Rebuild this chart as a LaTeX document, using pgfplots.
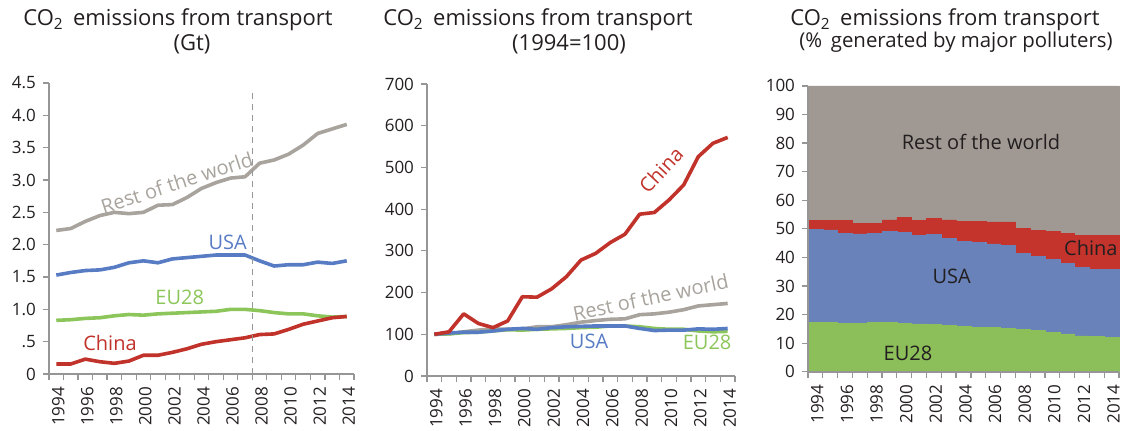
\documentclass[border=0pt]{standalone}
\usepackage{pgfplots}
\usepackage{pgfplotstable}
\pgfplotsset{compat=1.18}
\usepackage{fontspec}
\setmainfont{Open Sans}
\definecolor{rowline}{RGB}{168,163,157}
\definecolor{usaline}{RGB}{88,124,196}
\definecolor{euline}{RGB}{140,198,90}
\definecolor{chline}{RGB}{192,50,42}
\definecolor{rowfill}{RGB}{160,153,147}
\definecolor{usafill}{RGB}{105,130,185}
\definecolor{eufill}{RGB}{140,190,90}
\definecolor{chfill}{RGB}{196,52,44}
\definecolor{axgray}{RGB}{150,150,150}
\definecolor{txt}{RGB}{35,31,32}

\pgfplotstableread{
year row usa eu ch
1994 2.22 1.53 0.83 0.155
1995 2.25 1.57 0.84 0.155
1996 2.36 1.60 0.86 0.23
1997 2.45 1.61 0.87 0.19
1998 2.50 1.65 0.90 0.165
1999 2.48 1.72 0.92 0.20
2000 2.50 1.75 0.91 0.29
2001 2.61 1.72 0.93 0.29
2002 2.62 1.78 0.94 0.335
2003 2.73 1.80 0.95 0.39
2004 2.87 1.82 0.96 0.46
2005 2.96 1.84 0.97 0.50
2006 3.03 1.84 1.00 0.53
2007 3.05 1.84 1.00 0.56
2008 3.26 1.75 0.98 0.61
2009 3.31 1.67 0.95 0.62
2010 3.40 1.69 0.93 0.69
2011 3.54 1.69 0.93 0.77
2012 3.72 1.73 0.90 0.82
2013 3.79 1.71 0.88 0.87
2014 3.86 1.75 0.89 0.89
}\gt

\pgfplotstableread{
year row usa eu ch
1994 100 100 100 100
1995 101 103 101 106
1996 106 105 104 149
1997 110 105 105 126
1998 113 108 108 116
1999 112 112 111 132
2000 113 114 110 190
2001 118 112 112 189
2002 118 116 113 209
2003 123 118 114 238
2004 129 119 116 278
2005 133 120 117 294
2006 136 120 120 320
2007 137 120 120 340
2008 147 114 118 388
2009 149 109 114 392
2010 153 110 112 422
2011 159 110 112 458
2012 168 113 108 526
2013 171 112 106 558
2014 174 114 107 572
}\idx

\pgfplotstableread{
year eu usa ch row
1994 17.3 32.5 3.1 47.1
1995 17.2 32.4 3.3 47.1
1996 16.9 31.5 4.5 47.1
1997 16.9 31.3 3.7 48.1
1998 17.2 31.2 3.5 48.1
1999 17.3 31.9 3.9 46.9
2000 16.9 31.8 5.3 46.0
2001 16.7 31.1 5.1 47.1
2002 16.6 31.5 5.6 46.3
2003 16.1 30.6 6.4 46.9
2004 15.8 29.9 6.9 47.4
2005 15.5 29.8 7.2 47.5
2006 15.5 29.2 7.7 47.6
2007 15.2 29.1 8.1 47.6
2008 14.8 26.6 8.8 49.8
2009 14.4 25.9 9.1 50.6
2010 13.8 25.5 9.7 51.0
2011 13.2 24.7 10.5 51.6
2012 12.5 24.0 11.3 52.2
2013 12.3 23.5 11.8 52.4
2014 12.0 23.8 12.0 52.2
}\share

\pgfplotsset{
  myax/.style={
    scale only axis, anchor=south west,
    axis lines*=left,
    axis line style={draw=axgray, line width=0.9pt},
    tick style={draw=axgray, line width=0.6pt},
    tick align=outside,
    major tick length=3pt, minor tick length=3pt,
    xmin=1993.5, xmax=2014.5,
    xtick={1994,1996,...,2014},
    every major x tick/.append style={draw=none},
    minor xtick={1993.5,1994.5,...,2014.5},
    /pgf/number format/assume math mode=true,
    /pgf/number format/1000 sep={},
    x tick label style={rotate=90, anchor=east, font=\fontsize{8.5}{8.5}\selectfont, text=txt},
    y tick label style={font=\fontsize{8.5}{8.5}\selectfont, text=txt},
    xticklabel style={yshift=-1pt},
    clip=false,
  },
  ln/.style={line width=1.8pt, line join=round},
}
\newcommand\lab{\fontsize{10}{10}\selectfont}
\newcommand\ttl{\fontsize{11}{11}\selectfont}

\begin{document}
\begin{tikzpicture}
\path[use as bounding box] (0,0) rectangle (561pt,215pt);

% titles
\node[text=txt, font=\ttl] at (89pt,205pt) {CO\textsubscript{2}\, emissions from transport};
\node[text=txt, font=\ttl] at (96pt,193pt) {(Gt)};
\node[text=txt, font=\ttl] at (269pt,205pt) {CO\textsubscript{2}\, emissions from transport};
\node[text=txt, font=\ttl] at (284.5pt,193pt) {(1994=100)};
\node[text=txt, font=\ttl] at (472.5pt,205pt) {CO\textsubscript{2}\, emissions from transport};
\node[text=txt, font=\fontsize{10.2}{10.2}\selectfont] at (478pt,194pt) {(\%\,\ generated by major polluters)};

% chart 1
\begin{axis}[myax, at={(24.5pt,28pt)}, width=152.5pt, height=145.5pt,
  ymin=0, ymax=4.5, ytick={0,0.5,...,4.5},
  yticklabels={0,.5,1.0,1.5,2.0,2.5,3.0,3.5,4.0,4.5}]
\addplot[ln, color=rowline] table[x=year,y=row]{\gt};
\addplot[ln, color=usaline] table[x=year,y=usa]{\gt};
\addplot[ln, color=euline] table[x=year,y=eu]{\gt};
\addplot[ln, color=chline] table[x=year,y=ch]{\gt};
\draw[axgray, line width=0.7pt, dash pattern=on 3pt off 2.5pt] (axis cs:2007.5,0) -- (axis cs:2007.5,4.35);
\node[rowline, rotate=18, font=\lab] at (axis cs:2002.3,2.96) {Rest of the world};
\node[usaline, font=\lab] at (axis cs:2005.8,2.03) {USA};
\node[euline, font=\lab] at (axis cs:2002.5,1.19) {EU28};
\node[chline, font=\lab] at (axis cs:1997.7,0.48) {China};
\end{axis}

% chart 2
\begin{axis}[myax, at={(213.5pt,27pt)}, width=154pt, height=146pt,
  ymin=0, ymax=700, ytick={0,100,...,700}]
\addplot[ln, color=rowline] table[x=year,y=row]{\idx};
\addplot[ln, color=euline] table[x=year,y=eu]{\idx};
\addplot[ln, color=usaline] table[x=year,y=usa]{\idx};
\addplot[ln, color=chline] table[x=year,y=ch]{\idx};
\node[chline, rotate=47, font=\lab] at (axis cs:2009.45,494) {China};
\node[rowline, rotate=12, font=\lab] at (axis cs:2008.75,189) {Rest of the world};
\node[usaline, font=\lab] at (axis cs:2004.55,84) {USA};
\node[euline, font=\lab] at (axis cs:2012.6,80) {EU28};
\end{axis}

% chart 3
\begin{axis}[myax, at={(404pt,29.15pt)}, width=155.5pt, height=142.9pt,
  ymin=0, ymax=100, ytick={0,10,...,100}, axis on top,
  ybar stacked, bar width=1]
\addplot[fill=eufill, draw=eufill, line width=0.2pt] table[x=year,y=eu]{\share};
\addplot[fill=usafill, draw=usafill, line width=0.2pt] table[x=year,y=usa]{\share};
\addplot[fill=chfill, draw=chfill, line width=0.2pt] table[x=year,y=ch]{\share};
\addplot[fill=rowfill, draw=rowfill, line width=0.2pt] table[x=year,y=row]{\share};
\coordinate (L1) at (axis cs:2005.18,80.5);
\coordinate (L2) at (axis cs:2003.2,33.3);
\coordinate (L3) at (axis cs:2012.6,43.2);
\coordinate (L4) at (axis cs:2000.25,6.4);
\end{axis}
\node[txt, font=\lab] at (L1) {Rest of the world};
\node[txt, font=\lab] at (L2) {USA};
\node[txt, font=\lab] at (L3) {China};
\node[txt, font=\lab] at (L4) {EU28};
\end{tikzpicture}
\end{document}
